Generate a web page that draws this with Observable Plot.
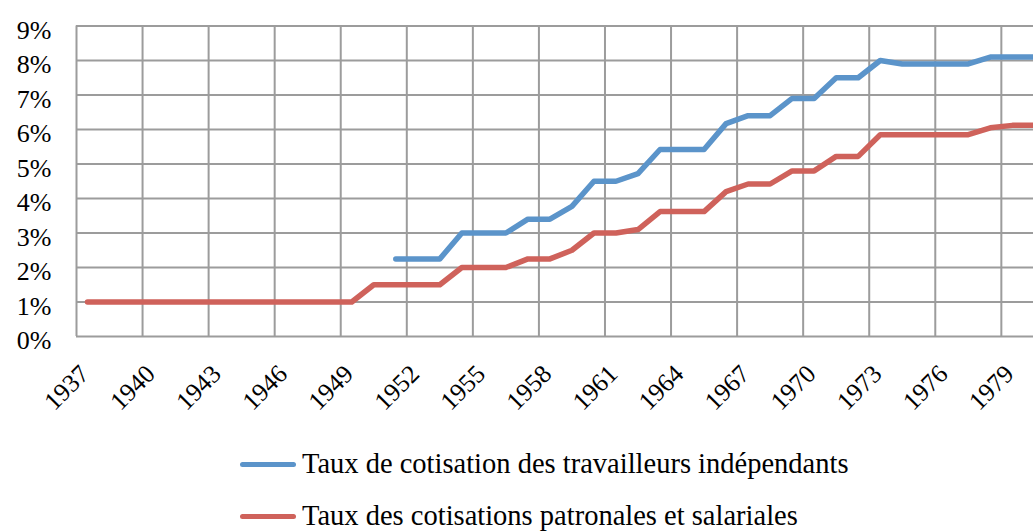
<!DOCTYPE html>
<html>
<head>
<meta charset="utf-8">
<script src="https://cdn.jsdelivr.net/npm/d3@7"></script>
<script src="https://cdn.jsdelivr.net/npm/@observablehq/plot@0.6"></script>
<style>
  html, body { margin: 0; padding: 0; background: #fff; overflow: hidden; }
  #wrap { position: relative; width: 1033px; height: 532px; }
  #legend { position: absolute; left: 0; top: 440px; width: 1033px; font-family: "Liberation Serif", serif; font-size: 28.5px; color: #000; }
  .row { position: absolute; left: 240px; height: 40px; display: flex; align-items: center; white-space: nowrap; }
  .sw { display: inline-block; width: 56px; height: 5px; border-radius: 3px; margin-right: 6px; }
</style>
</head>
<body>
<div id="wrap"></div>
<script>
// ---- data ----
const years = [1937,1938,1939,1940,1941,1942,1943,1944,1945,1946,1947,1948,1949,
  1950,1951,1952,1953,1954,1955,1956,1957,1958,1959,1960,1961,1962,1963,1964,1965,
  1966,1967,1968,1969,1970,1971,1972,1973,1974,1975,1976,1977,1978,1979,1980];

// Taux de cotisation des travailleurs indépendants (%)
const independants = [null,null,null,null,null,null,null,null,null,null,null,null,null,
  null,2.25,2.25,2.25,3.0,3.0,3.0,3.4,3.4,3.77,4.5,4.5,4.72,5.42,5.42,5.42,
  6.17,6.4,6.4,6.9,6.9,7.5,7.5,8.0,7.9,7.9,7.9,7.9,8.1,8.1,8.1];

// Taux des cotisations patronales et salariales (%)
const salaries = [1.0,1.0,1.0,1.0,1.0,1.0,1.0,1.0,1.0,1.0,1.0,1.0,1.0,
  1.5,1.5,1.5,1.5,2.0,2.0,2.0,2.25,2.25,2.5,3.0,3.0,3.1,3.62,3.62,3.62,
  4.2,4.42,4.42,4.8,4.8,5.22,5.22,5.85,5.85,5.85,5.85,5.85,6.05,6.12,6.12];

const seriesNames = ["Taux de cotisation des travailleurs indépendants", "Taux des cotisations patronales et salariales"];
const seriesColors = ["#5b94ca", "#cf625b"];

const xTickLabels = ["1937","1940","1943","1946","1949","1952","1955","1958","1961","1964","1967","1970","1973","1976","1979"];
const yTicks = [0,1,2,3,4,5,6,7,8,9];

// ---- derived tables ----
const blueData = years.map((y, i) => ({year: y, value: independants[i] == null ? NaN : independants[i] / 100}));
const redData = years.map((y, i) => ({year: y, value: salaries[i] / 100}));
const xTickYears = xTickLabels.map(Number);
const gridX = xTickYears.map(y => y - 0.5);
const yTickVals = yTicks.map(v => v / 100);

const W = 1033, H = 440;
const mL = 76, mT = 25.5, mB = 104;
const pxPerYear = 22.02;

const chart = Plot.plot({
  width: W,
  height: H,
  marginLeft: mL,
  marginRight: 0,
  marginTop: mT,
  marginBottom: mB,
  style: {fontFamily: "Liberation Serif, serif", background: "white", overflow: "hidden"},
  x: {type: "linear", domain: [1936.5, 1936.5 + (W - mL) / pxPerYear], axis: null},
  y: {domain: [0, 0.09], axis: null},
  marks: [
    Plot.ruleY(yTickVals, {stroke: "#9c9c9c", strokeWidth: 2}),
    Plot.ruleX(gridX, {stroke: "#9c9c9c", strokeWidth: 2}),
    Plot.line(redData, {x: "year", y: "value", stroke: seriesColors[1], strokeWidth: 5.5, strokeLinecap: "round", strokeLinejoin: "round", clip: true}),
    Plot.line(blueData, {x: "year", y: "value", stroke: seriesColors[0], strokeWidth: 5.5, strokeLinecap: "round", strokeLinejoin: "round", clip: true}),
    Plot.text(yTickVals, {y: d => d, frameAnchor: "left", text: d => d3.format(".0%")(d), textAnchor: "end", lineAnchor: "bottom", dx: -25, dy: 12.5, fontSize: 26, fill: "#000"}),
    Plot.text(xTickYears, {x: d => d, frameAnchor: "bottom", text: (d, i) => xTickLabels[i], rotate: -45, textAnchor: "end", lineAnchor: "bottom", dx: 3, dy: 39, fontSize: 25.5, fill: "#000"})
  ]
});

const wrap = document.getElementById("wrap");
wrap.appendChild(chart);

const legend = document.createElement("div");
legend.id = "legend";
const rowTops = [4, 56];
seriesNames.forEach((name, i) => {
  const row = document.createElement("div");
  row.className = "row";
  row.style.top = rowTops[i] + "px";
  const sw = document.createElement("span");
  sw.className = "sw";
  sw.style.background = seriesColors[i];
  const tx = document.createElement("span");
  tx.textContent = name;
  row.appendChild(sw);
  row.appendChild(tx);
  legend.appendChild(row);
});
wrap.appendChild(legend);
</script>
</body>
</html>
